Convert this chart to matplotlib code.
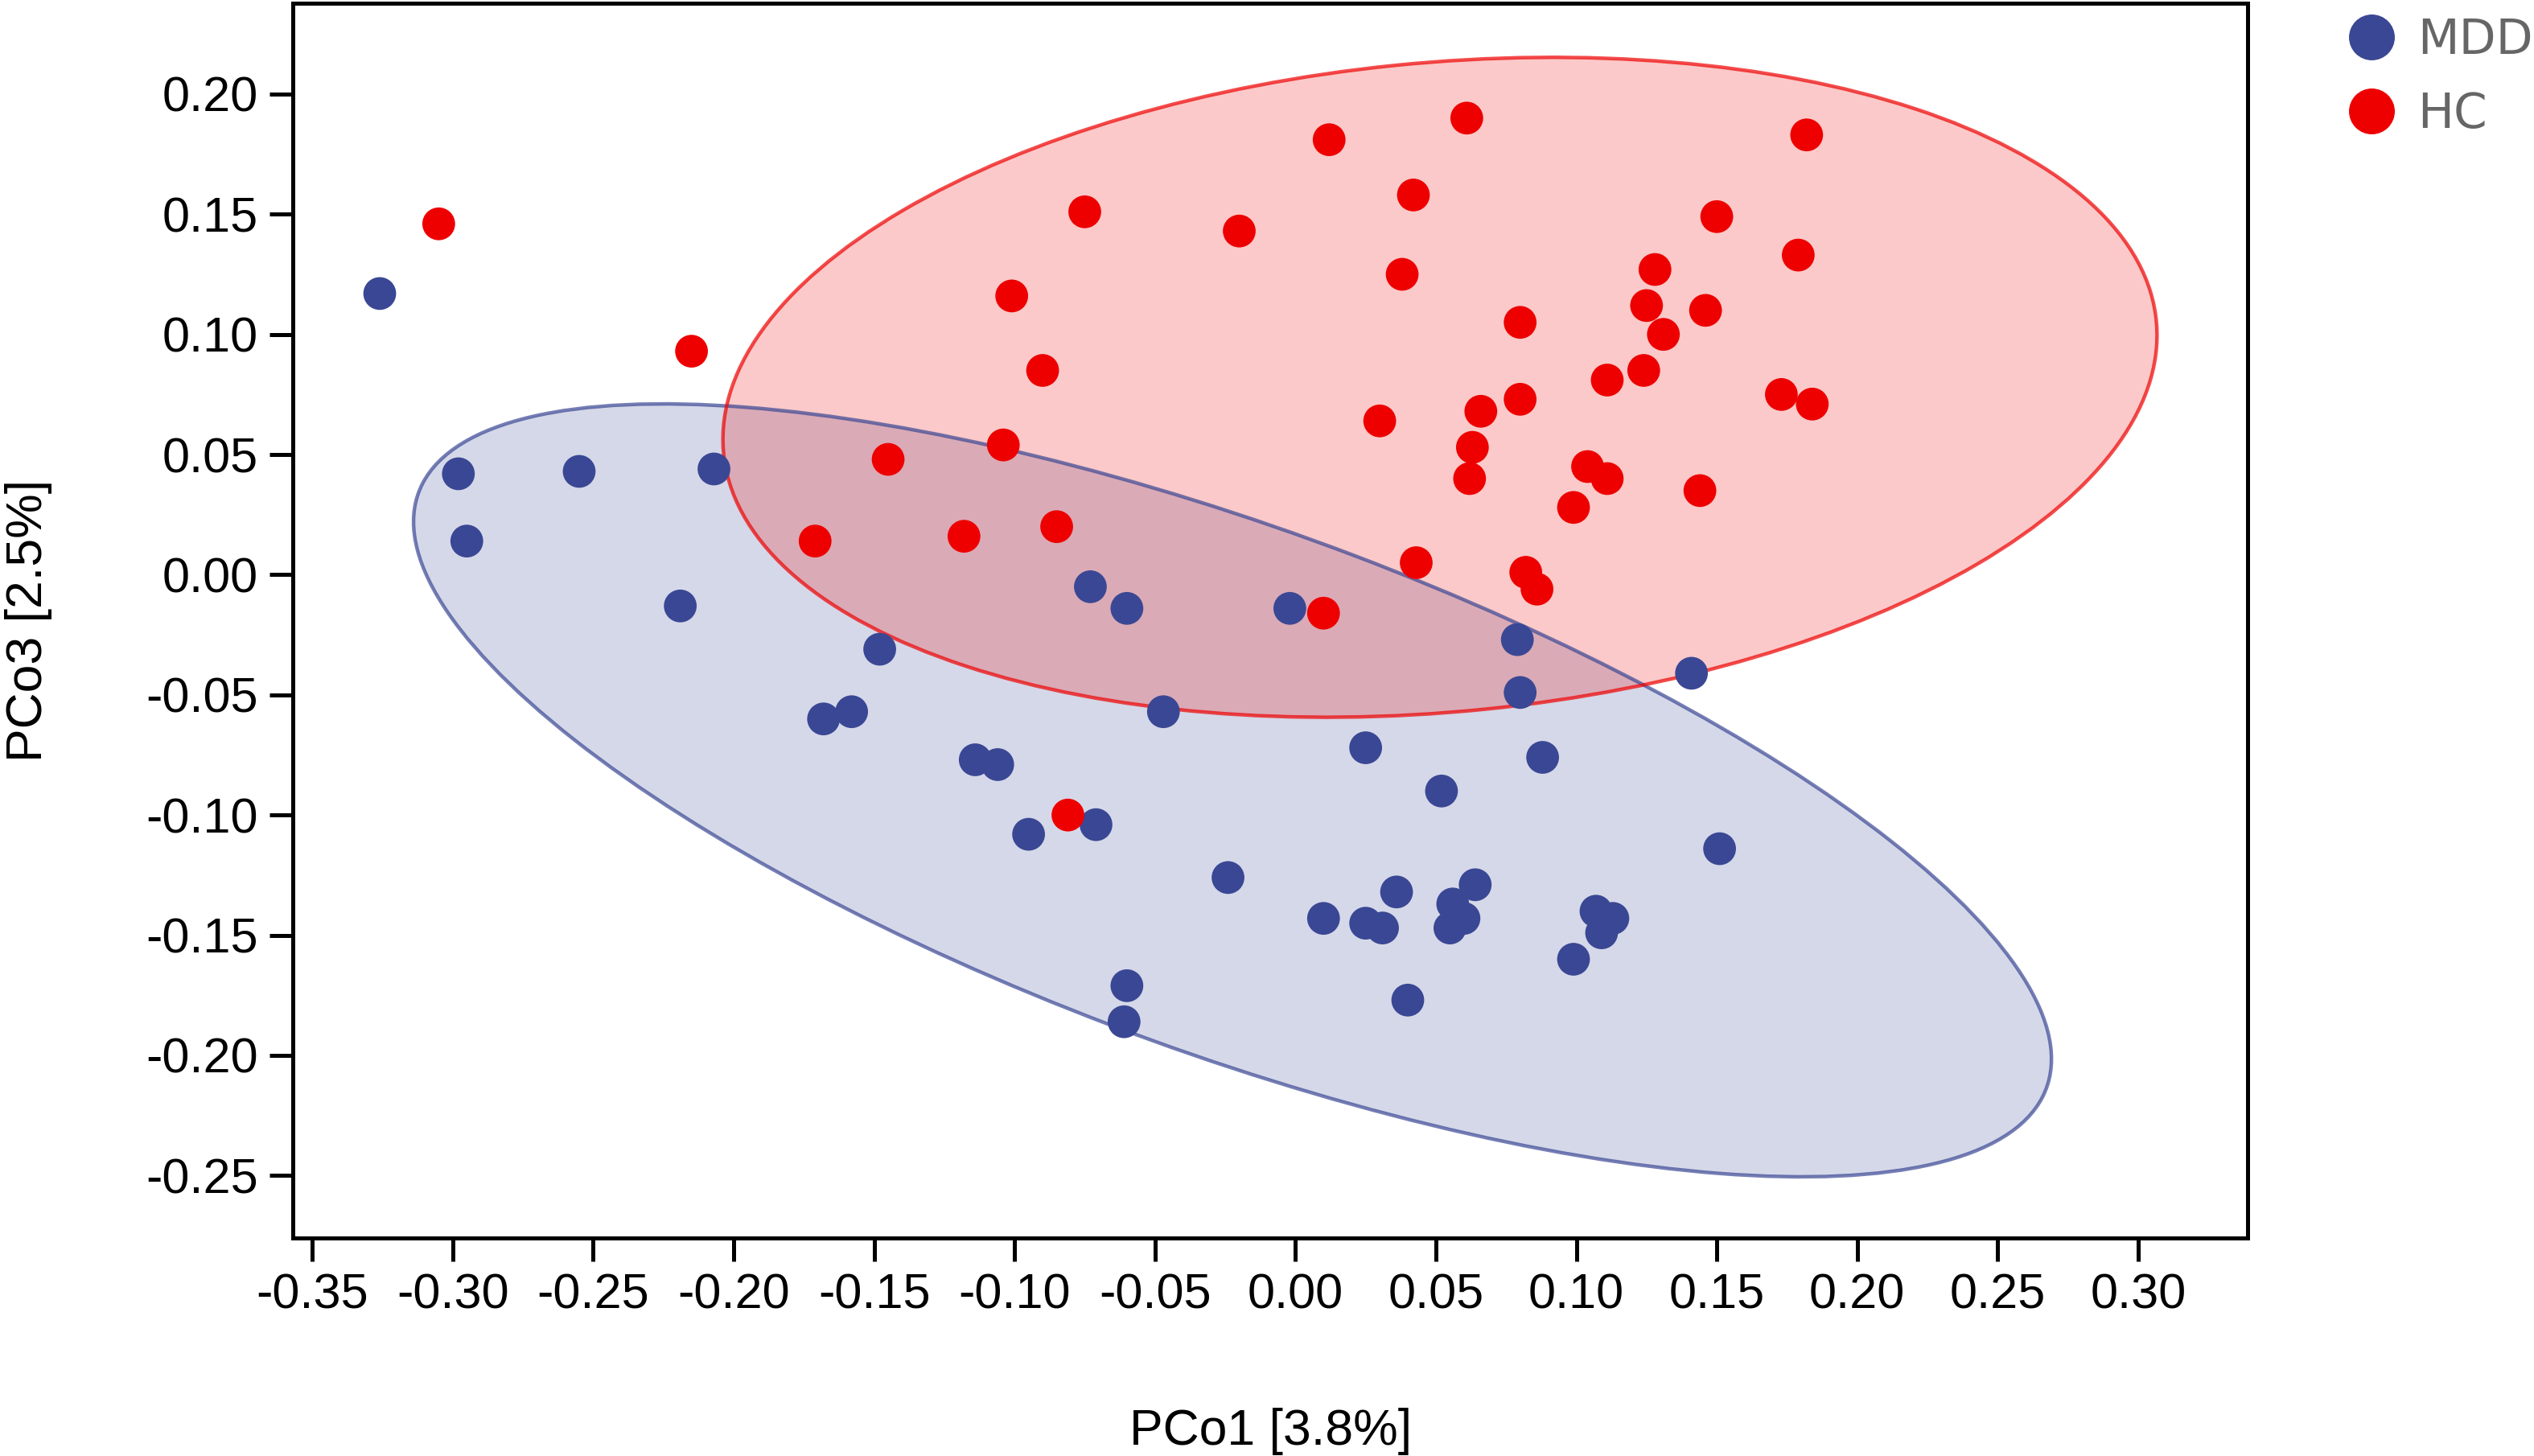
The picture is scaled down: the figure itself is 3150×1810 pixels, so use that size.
import numpy as np
import matplotlib.pyplot as plt
from matplotlib.patches import Ellipse
from matplotlib.lines import Line2D

plt.rcParams['font.family'] = ['Liberation Sans', 'DejaVu Sans']
plt.rcParams['axes.unicode_minus'] = False

# PCoA scores
mdd_x = [-0.326, -0.298, -0.295, -0.255, -0.207, -0.219, -0.148, -0.168, -0.158, -0.114,
         -0.106, -0.095, -0.071, -0.073, -0.060, -0.047, -0.002, -0.024, -0.060, -0.061,
         0.010, 0.025, 0.025, 0.031, 0.036, 0.052, 0.040, 0.056, 0.060, 0.055,
         0.064, 0.079, 0.080, 0.088, 0.099, 0.107, 0.113, 0.109, 0.141, 0.151]
mdd_y = [0.117, 0.042, 0.014, 0.043, 0.044, -0.013, -0.031, -0.060, -0.057, -0.077,
         -0.079, -0.108, -0.104, -0.005, -0.014, -0.057, -0.014, -0.126, -0.171, -0.186,
         -0.143, -0.072, -0.145, -0.147, -0.132, -0.090, -0.177, -0.137, -0.143, -0.147,
         -0.129, -0.027, -0.049, -0.076, -0.160, -0.140, -0.143, -0.149, -0.041, -0.114]

hc_x = [-0.305, -0.215, -0.145, -0.171, -0.118, -0.104, -0.085, -0.090, -0.101, -0.075,
        -0.020, 0.012, 0.042, 0.038, 0.061, 0.030, 0.066, 0.080, 0.080, 0.063,
        0.062, 0.043, 0.082, 0.086, 0.111, 0.099, 0.104, 0.111, 0.124, 0.125,
        0.128, 0.131, 0.146, 0.150, 0.144, 0.173, 0.184, 0.179, 0.182, 0.010, -0.081]
hc_y = [0.146, 0.093, 0.048, 0.014, 0.016, 0.054, 0.020, 0.085, 0.116, 0.151,
        0.143, 0.181, 0.158, 0.125, 0.190, 0.064, 0.068, 0.105, 0.073, 0.053,
        0.040, 0.005, 0.001, -0.006, 0.081, 0.028, 0.045, 0.040, 0.085, 0.112,
        0.127, 0.100, 0.110, 0.149, 0.035, 0.075, 0.071, 0.133, 0.183, -0.016, -0.100]

groups = ['MDD', 'HC']
colors = {'MDD': '#3a4794', 'HC': '#ee0000'}
data = {'MDD': (np.array(mdd_x), np.array(mdd_y)), 'HC': (np.array(hc_x), np.array(hc_y))}

fig = plt.figure(figsize=(15.75, 9.05), dpi=200)
ax = fig.add_axes([0.1156, 0.1497, 0.7714, 0.8481])


def cov_trob(pts, nu=5, maxit=25, tol=0.01):
    # multivariate t robust estimate (like MASS::cov.trob)
    n, p = pts.shape
    loc = pts.mean(axis=0)
    w = np.ones(n)
    for it in range(maxit):
        w0 = w
        X = pts - loc
        _, d, vt = np.linalg.svd(np.sqrt(w / w.sum())[:, None] * X, full_matrices=False)
        wX = X @ vt.T @ np.diag(1 / d)
        Q = (wX ** 2).sum(axis=1)
        w = (nu + p) / (nu + Q)
        loc = (w[:, None] * pts).sum(axis=0) / w.sum()
        if np.all(np.abs(w - w0) < tol):
            break
    cov = (np.sqrt(w)[:, None] * X).T @ (np.sqrt(w)[:, None] * X) / n
    return loc, cov


def conf_ellipse(x, y, color, level=0.95):
    pts = np.column_stack([x, y])
    loc, cov = cov_trob(pts)
    dfd = len(x) - 1
    fq = dfd / 2 * ((1 - level) ** (-2 / dfd) - 1)   # F(2, dfd) quantile
    r = np.sqrt(2 * fq)
    vals, vecs = np.linalg.eigh(cov)
    order = vals.argsort()[::-1]
    vals, vecs = vals[order], vecs[:, order]
    angle = np.degrees(np.arctan2(vecs[1, 0], vecs[0, 0]))
    w, h = 2 * r * np.sqrt(vals)
    ax.add_patch(Ellipse(loc, w, h, angle=angle, facecolor=color, alpha=0.21,
                         edgecolor='none', zorder=1))
    ax.add_patch(Ellipse(loc, w, h, angle=angle, facecolor='none', edgecolor=color,
                         alpha=0.7, lw=1.6, zorder=2))


for g in groups:
    conf_ellipse(data[g][0], data[g][1], colors[g])
for g in groups:
    ax.scatter(data[g][0], data[g][1], s=215, color=colors[g], edgecolors='none', zorder=3)

ax.set_xlim(-0.3569, 0.339)
ax.set_ylim(-0.276, 0.2378)
ax.set_xticks(np.round(np.arange(-0.35, 0.301, 0.05), 2) + 0.0)
ax.set_yticks(np.round(np.arange(-0.25, 0.201, 0.05), 2) + 0.0)
ax.set_xticklabels(['%.2f' % abs(v) if abs(v) < 1e-9 else '%.2f' % v for v in ax.get_xticks()])
ax.set_yticklabels(['%.2f' % abs(v) if abs(v) < 1e-9 else '%.2f' % v for v in ax.get_yticks()])
ax.tick_params(axis='both', labelsize=22, length=10.5, width=1.8, pad=5, colors='black')
for sp in ax.spines.values():
    sp.set_linewidth(1.8)

ax.set_xlabel('PCo1 [3.8%]', fontsize=22.5, labelpad=40)
ax.set_ylabel('PCo3 [2.5%]', fontsize=22.5, labelpad=42)

handles = [Line2D([], [], marker='o', linestyle='none', markersize=20.5,
                  markerfacecolor=colors[g], markeredgecolor='none') for g in groups]
fig.legend(handles, groups, loc='upper left', bbox_to_anchor=(0.915, 1.005), frameon=False,
           prop={'family': 'DejaVu Sans', 'size': 21.5}, labelcolor='#666666',
           handletextpad=0.35, labelspacing=0.55, borderpad=0, handlelength=1.2)

plt.savefig('out.png', dpi=200)
